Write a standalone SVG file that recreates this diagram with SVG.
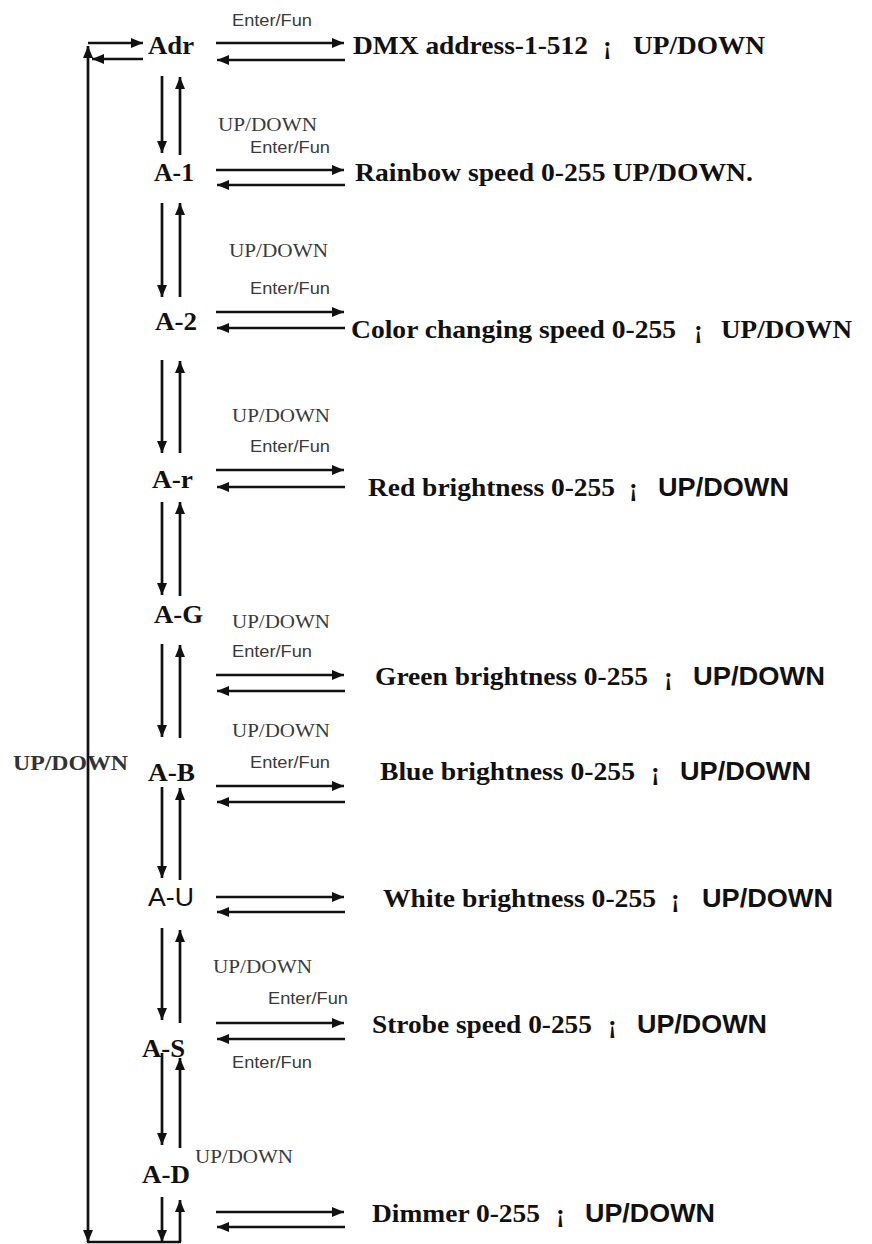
<svg xmlns="http://www.w3.org/2000/svg" width="872" height="1244" viewBox="0 0 872 1244">
<style>
.nd{font-family:"Liberation Serif","Times New Roman",serif;font-weight:bold;font-size:26px;fill:#111}
.nds{font-family:"Liberation Sans",Arial,sans-serif;font-size:26px;fill:#111}
.ds{font-family:"Liberation Serif","Times New Roman",serif;font-weight:bold;font-size:26px;fill:#111}
.dss{font-family:"Liberation Sans",Arial,sans-serif;font-weight:bold;font-size:26px;fill:#111}
.ef{font-family:"Liberation Sans",Arial,sans-serif;font-size:16px;fill:#3a3a3a}
.ud{font-family:"Liberation Serif","Times New Roman",serif;font-size:19px;fill:#3a3a3a}
.udl{font-family:"Liberation Serif","Times New Roman",serif;font-weight:bold;font-size:22px;fill:#333}
.c line,.c polyline{stroke:#111;stroke-width:2.7;fill:none}
.a{marker-end:url(#ah)}
.b{marker-start:url(#ah);marker-end:url(#ah)}
</style>
<defs>
<marker id="ah" markerUnits="userSpaceOnUse" markerWidth="12" markerHeight="10" viewBox="0 0 12 10" refX="12" refY="5" orient="auto-start-reverse">
<path d="M0,0 L12,5 L0,10 z" fill="#111"/>
</marker>
</defs>

<g id="labels">
<text class="udl" x="13" y="770" textLength="115" lengthAdjust="spacingAndGlyphs">UP/DOWN</text>
<text class="ef" x="232" y="26" textLength="80" lengthAdjust="spacingAndGlyphs">Enter/Fun</text>
<text class="ud" x="218" y="131" textLength="99" lengthAdjust="spacingAndGlyphs">UP/DOWN</text>
<text class="ef" x="250" y="153" textLength="80" lengthAdjust="spacingAndGlyphs">Enter/Fun</text>
<text class="ud" x="229" y="257" textLength="99" lengthAdjust="spacingAndGlyphs">UP/DOWN</text>
<text class="ef" x="250" y="294" textLength="80" lengthAdjust="spacingAndGlyphs">Enter/Fun</text>
<text class="ud" x="232" y="422" textLength="98" lengthAdjust="spacingAndGlyphs">UP/DOWN</text>
<text class="ef" x="250" y="452" textLength="80" lengthAdjust="spacingAndGlyphs">Enter/Fun</text>
<text class="ud" x="232" y="628" textLength="98" lengthAdjust="spacingAndGlyphs">UP/DOWN</text>
<text class="ef" x="232" y="657" textLength="80" lengthAdjust="spacingAndGlyphs">Enter/Fun</text>
<text class="ud" x="232" y="737" textLength="98" lengthAdjust="spacingAndGlyphs">UP/DOWN</text>
<text class="ef" x="250" y="768" textLength="80" lengthAdjust="spacingAndGlyphs">Enter/Fun</text>
<text class="ud" x="213" y="973" textLength="99" lengthAdjust="spacingAndGlyphs">UP/DOWN</text>
<text class="ef" x="268" y="1004" textLength="80" lengthAdjust="spacingAndGlyphs">Enter/Fun</text>
<text class="ef" x="232" y="1068" textLength="80" lengthAdjust="spacingAndGlyphs">Enter/Fun</text>
<text class="ud" x="195" y="1163" textLength="98" lengthAdjust="spacingAndGlyphs">UP/DOWN</text>
</g>

<g id="connectors" class="c">
<!-- left loop -->
<line x1="88" y1="46" x2="88" y2="1242" class="b"/>
<line x1="88" y1="43" x2="143" y2="43" class="a"/>
<line x1="143" y1="59" x2="92" y2="59" class="a"/>
<line x1="87" y1="1242" x2="181" y2="1242"/>
<!-- vertical pairs -->
<line x1="162" y1="76" x2="162" y2="153" class="a"/>
<line x1="180" y1="155" x2="180" y2="77" class="a"/>
<line x1="162" y1="203" x2="162" y2="297" class="a"/>
<line x1="180" y1="297" x2="180" y2="203" class="a"/>
<line x1="162" y1="360" x2="162" y2="453" class="a"/>
<line x1="180" y1="453" x2="180" y2="361" class="a"/>
<line x1="162" y1="502" x2="162" y2="595" class="a"/>
<line x1="180" y1="596" x2="180" y2="502" class="a"/>
<line x1="162" y1="644" x2="162" y2="737" class="a"/>
<line x1="180" y1="738" x2="180" y2="645" class="a"/>
<line x1="162" y1="787" x2="162" y2="878" class="a"/>
<line x1="180" y1="880" x2="180" y2="788" class="a"/>
<line x1="162" y1="928" x2="162" y2="1020" class="a"/>
<line x1="180" y1="1023" x2="180" y2="930" class="a"/>
<line x1="162" y1="1053" x2="162" y2="1145" class="a"/>
<line x1="180" y1="1148" x2="180" y2="1058" class="a"/>
<line x1="162" y1="1197" x2="162" y2="1242" class="a"/>
<line x1="180" y1="1242" x2="180" y2="1200" class="a"/>
<!-- horizontal pairs -->
<line x1="216" y1="43" x2="344" y2="43" class="a"/>
<line x1="345" y1="60" x2="217" y2="60" class="a"/>
<line x1="216" y1="170" x2="344" y2="170" class="a"/>
<line x1="345" y1="185" x2="217" y2="185" class="a"/>
<line x1="216" y1="312" x2="344" y2="312" class="a"/>
<line x1="345" y1="328" x2="217" y2="328" class="a"/>
<line x1="216" y1="470" x2="344" y2="470" class="a"/>
<line x1="345" y1="487" x2="217" y2="487" class="a"/>
<line x1="216" y1="675" x2="344" y2="675" class="a"/>
<line x1="345" y1="691" x2="217" y2="691" class="a"/>
<line x1="216" y1="786" x2="344" y2="786" class="a"/>
<line x1="345" y1="802" x2="217" y2="802" class="a"/>
<line x1="216" y1="897" x2="344" y2="897" class="a"/>
<line x1="345" y1="912" x2="217" y2="912" class="a"/>
<line x1="216" y1="1023" x2="344" y2="1023" class="a"/>
<line x1="345" y1="1039" x2="217" y2="1039" class="a"/>
<line x1="216" y1="1212" x2="344" y2="1212" class="a"/>
<line x1="345" y1="1227" x2="217" y2="1227" class="a"/>
</g>

<g id="node-adr">
<text class="nd" x="148" y="54" textLength="46" lengthAdjust="spacingAndGlyphs">Adr</text>
<text class="ds" x="353" y="54" textLength="235" lengthAdjust="spacingAndGlyphs">DMX address-1-512</text>
<text class="ds" x="603" y="54">¡</text>
<text class="ds" x="633" y="54" textLength="132" lengthAdjust="spacingAndGlyphs">UP/DOWN</text>
</g>
<g id="node-a1">
<text class="nd" x="154" y="181" textLength="40" lengthAdjust="spacingAndGlyphs">A-1</text>
<text class="ds" x="355" y="181" textLength="398" lengthAdjust="spacingAndGlyphs">Rainbow speed 0-255 UP/DOWN.</text>
</g>
<g id="node-a2">
<text class="nd" x="155" y="330" textLength="42" lengthAdjust="spacingAndGlyphs">A-2</text>
<text class="ds" x="351" y="338" textLength="325" lengthAdjust="spacingAndGlyphs">Color changing speed 0-255</text>
<text class="ds" x="694" y="338">¡</text>
<text class="ds" x="721" y="338" textLength="131" lengthAdjust="spacingAndGlyphs">UP/DOWN</text>
</g>
<g id="node-ar">
<text class="nd" x="152" y="488" textLength="41" lengthAdjust="spacingAndGlyphs">A-r</text>
<text class="ds" x="368" y="496" textLength="247" lengthAdjust="spacingAndGlyphs">Red brightness 0-255</text>
<text class="ds" x="629" y="496">¡</text>
<text class="dss" x="658" y="496" textLength="131" lengthAdjust="spacingAndGlyphs">UP/DOWN</text>
</g>
<g id="node-ag">
<text class="nd" x="154" y="623" textLength="49" lengthAdjust="spacingAndGlyphs">A-G</text>
<text class="ds" x="375" y="685" textLength="273" lengthAdjust="spacingAndGlyphs">Green brightness 0-255</text>
<text class="ds" x="664" y="685">¡</text>
<text class="dss" x="693" y="685" textLength="132" lengthAdjust="spacingAndGlyphs">UP/DOWN</text>
</g>
<g id="node-ab">
<text class="nd" x="148" y="781" textLength="47" lengthAdjust="spacingAndGlyphs">A-B</text>
<text class="ds" x="380" y="780" textLength="255" lengthAdjust="spacingAndGlyphs">Blue brightness 0-255</text>
<text class="ds" x="651" y="780">¡</text>
<text class="dss" x="680" y="780" textLength="131" lengthAdjust="spacingAndGlyphs">UP/DOWN</text>
</g>
<g id="node-au">
<text class="nds" x="148" y="906" textLength="46" lengthAdjust="spacingAndGlyphs">A-U</text>
<text class="ds" x="383" y="907" textLength="273" lengthAdjust="spacingAndGlyphs">White brightness 0-255</text>
<text class="ds" x="671" y="907">¡</text>
<text class="dss" x="702" y="907" textLength="131" lengthAdjust="spacingAndGlyphs">UP/DOWN</text>
</g>
<g id="node-as">
<text class="nd" x="142" y="1057" textLength="43" lengthAdjust="spacingAndGlyphs">A-S</text>
<text class="ds" x="372" y="1033" textLength="220" lengthAdjust="spacingAndGlyphs">Strobe speed 0-255</text>
<text class="ds" x="608" y="1033">¡</text>
<text class="dss" x="637" y="1033" textLength="130" lengthAdjust="spacingAndGlyphs">UP/DOWN</text>
</g>
<g id="node-ad">
<text class="nd" x="142" y="1183" textLength="48" lengthAdjust="spacingAndGlyphs">A-D</text>
<text class="ds" x="372" y="1222" textLength="168" lengthAdjust="spacingAndGlyphs">Dimmer 0-255</text>
<text class="ds" x="556" y="1222">¡</text>
<text class="dss" x="585" y="1222" textLength="130" lengthAdjust="spacingAndGlyphs">UP/DOWN</text>
</g>
</svg>
